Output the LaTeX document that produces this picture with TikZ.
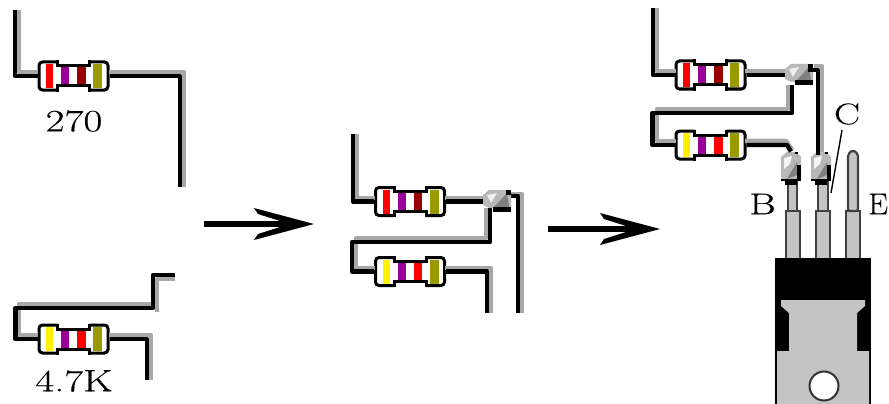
\documentclass[tikz,border=0pt]{standalone}
\usepackage{fontspec}
\usetikzlibrary{calc}
\setmainfont{Latin Modern Roman}[FakeBold=0.25]
\definecolor{wiregray}{HTML}{A8A8A8}
\definecolor{pingray}{HTML}{C4C4C4}
\definecolor{bandolive}{HTML}{999900}
\definecolor{bandpurple}{HTML}{990099}
\definecolor{banddark}{HTML}{990000}
\tikzset{
  wire/.style={draw=black,line width=4.4pt,line join=round},
  wireshade/.style={draw=wiregray,line width=4.6pt,line join=round},
  resbox/.style={minimum width=72pt,minimum height=31pt,inner sep=0pt,outer sep=0pt},
  lab/.style={inner sep=0pt,font=\fontsize{31}{31}\selectfont},
  smalllab/.style={inner sep=0pt,font=\fontsize{30}{30}\selectfont},
  arrowfill/.style={fill=black,draw=none},
  pin/.style={draw=black!75,line width=2.2pt,fill=pingray},
  resline/.style={draw=black,line width=3pt},
}
% resistor: name, x, y, band colours
\newcommand{\resistor}[6]{%
  \node[resbox] (#1) at (#2,#3) {};
  \begin{scope}[shift={(#2,#3)}]
    \fill[white] (-34,-13) rectangle (34,13);
    \fill[#4] (-27.5,-12) rectangle (-20.5,12);
    \fill[#5] (-12.5,-8.5) rectangle (-4.5,8.5);
    \fill[#6] (3.5,-8.5) rectangle (12,8.5);
    \fill[bandolive] (19.5,-12) rectangle (28.5,12);
    \draw[resline] (-16,-10) -- (16,-10) (-16,10) -- (16,10);
    \draw[resline,rounded corners=3.5pt]
      (-16,-14) -- (-34.5,-14) -- (-34.5,14) -- (-16,14);
    \draw[resline,rounded corners=3.5pt]
      (16,-14) -- (34.5,-14) -- (34.5,14) -- (16,14);
    \draw[resline] (-16,-15.5) -- (-16,-8.5) (16,-15.5) -- (16,-8.5)
      (-16,15.5) -- (-16,8.5) (16,15.5) -- (16,8.5);
  \end{scope}}
% horizontal solder blob
\newcommand{\hblob}[3]{%
  \node[inner sep=0pt,outer sep=0pt,minimum width=28pt,minimum height=22pt] (#1) at (#2,#3) {};
  \begin{scope}[shift={(#2,#3)}]
    \fill[black!28] (-14,-6) -- (-8,-11) -- (9,-11) -- (14,-6) -- (14,7) -- (-8,7) -- (-14,4) -- cycle;
    \fill[black!6] (-10,-6) -- (0,-8) -- (-6,2) -- cycle;
    \fill[black!50] (10,-8) -- (12,6) -- (-3,6) -- cycle;
    \fill[black] (-4,5.5) rectangle (14,10.5);
    \fill[black] (9,-11) rectangle (14,-6);
  \end{scope}}
% vertical solder blob
\newcommand{\vblob}[3]{%
  \node[inner sep=0pt,outer sep=0pt,minimum width=20pt,minimum height=33pt] (#1) at (#2,#3) {};
  \begin{scope}[shift={(#2,#3)}]
    \fill[black!28] (-10,-11) -- (-4,-16) -- (5,-16) -- (10,-11) -- (10,11) -- (-10,11) -- cycle;
    \fill[black!4] (-7,-10) -- (1,-12) -- (-1,-4) -- (-7,1) -- cycle;
    \fill[black!50] (6,-6) -- (6,7) -- (-4,11) -- cycle;
    \fill[black] (6,-3) rectangle (10,12);
    \fill[black] (-6,12) rectangle (6,17);
    \fill[black] (-10,11) rectangle (10,13);
    \fill[black] (4,-16) rectangle (7,-14);
  \end{scope}}
\begin{document}
\begin{tikzpicture}[x=1pt,y=-1pt]
\useasboundingbox (0,0) rectangle (889,404);
\fill[white] (0,0) rectangle (889,404);

% ---- left group ----
\resistor{ra}{73.5}{76}{red}{bandpurple}{banddark}
\resistor{rb}{73.5}{339}{yellow}{bandpurple}{red}
\coordinate (a1) at (15,10);
\coordinate (a2) at (180,187);
\coordinate (b1) at (175,275);
\coordinate (b2) at (147,380);
\coordinate (b3) at (153,308);
\draw[wireshade] (18.8,10) -- (18.8,72) -- (38,72);
\draw[wireshade] (109,72) -- (183.8,72) -- (183.8,187);
\draw[wire] (a1) |- (ra.west);
\draw[wire] (ra.east) -| (a2);
\draw[wireshade] (175,279) -- (157,279) -- (157,312);
\draw[wireshade] (151,304) -- (18.8,304) -- (18.8,335) -- (38,335);
\draw[wireshade] (109,335) -- (150.8,335) -- (150.8,380);
\draw[wire] (b1) -| (b3) -| ($(rb.west)+(-22,0)$) -- (rb.west);
\draw[wire] (rb.east) -| (b2);
\node[lab] (la) at (74,121) {\scalebox{1.33}[1]{270}};
\node[lab] (lb) at (74,381) {\scalebox{1.32}[1]{4.7K}};

% ---- arrows ----
\coordinate (p1) at (204,224);
\coordinate (p2) at (314,224);
\coordinate (q1) at (548,229);
\coordinate (q2) at (660,229);
\foreach \s/\e in {p1/p2,q1/q2}{
  \draw[line width=6pt] (\s) -- ([xshift=-30pt]\e);
  \fill[arrowfill] (\e) -- ++(-60,-16) -- ++(4,6) -- ++(22,7) -- ++(0,6) -- ++(-22,7) -- ++(-4,6) -- cycle;
}

% ---- middle group ----
\resistor{rc}{410}{201.5}{red}{bandpurple}{banddark}
\resistor{rd}{410}{271.5}{yellow}{bandpurple}{red}
\coordinate (c1) at (353,134);
\coordinate (c2) at (518,313);
\coordinate (c3) at (487,313);
\coordinate (c4) at (490,208);
\coordinate (c5) at (490,242);
\coordinate (c6) at (506,196);
\coordinate (c7) at (518,196);
\draw[wireshade] (356.8,134) -- (356.8,198) -- (375,198);
\draw[wireshade] (445,198) -- (484,198);
\draw[wireshade] (486,208) -- (486,238) -- (355.8,238) -- (355.8,268) -- (375,268);
\draw[wireshade] (445,268) -- (490.8,268) -- (490.8,313);
\draw[wireshade] (510,194) -- (521.8,194) -- (521.8,313);
\draw[wire] (c1) |- (rc.west);
\node[inner sep=0pt,outer sep=0pt] (jc) at (484,201.5) {};
\draw[wire] (rc.east) -- (jc);
\draw[wire] (c4) -- (c5) -| ($(rd.west)+(-22,0)$) -- (rd.west);
\draw[wire] (rd.east) -| (c3);
\draw[wire] (c6) -- (c7) -- (c2);
\hblob{bm}{497}{201}

% ---- right group ----
\resistor{re}{710.5}{75}{red}{bandpurple}{banddark}
\resistor{rf}{710.5}{145}{yellow}{bandpurple}{red}
\coordinate (d1) at (653,8);
\coordinate (d2) at (792,85);
\coordinate (d3) at (792,113);
\coordinate (d4) at (808,70);
\coordinate (d5) at (818,70);
\coordinate (d6) at (818,155);
\coordinate (d7) at (787,145);
\draw[wireshade] (656.8,8) -- (656.8,71) -- (676,71);
\draw[wireshade] (745,71) -- (785,71);
\draw[wireshade] (788,85) -- (788,109) -- (656.8,109) -- (656.8,141) -- (676,141);
\draw[wireshade] (745,141) -- (786,141) -- (792,150);
\draw[wireshade] (814,66) -- (821.8,66) -- (821.8,155);

% transistor pins
\draw[pin] (786,211) rectangle (800,259);
\draw[pin] (788,178) rectangle (797,211);
\draw[pin] (816,211) rectangle (830,259);
\draw[pin] (818,178) rectangle (828,211);
\draw[pin] (846,211) rectangle (860,259);
\draw[pin,rounded corners=2pt] (848,211) -- (848,154) -- (853,150) -- (858,154) -- (858,211) -- cycle;
\vblob{bb}{791}{168}
\vblob{bc}{821}{168}
\hblob{bt}{799}{75}
\draw[wire] (d1) |- (re.west);
\draw[wire] (re.east) -- (bt.west);
\draw[wire] (d2) -- (d3) -| ($(rf.west)+(-22,0)$) -- (rf.west);
\draw[wire] (rf.east) -- (d7) -- (bb.north);
\draw[wire] (d4) -- (d5) -- (d6);

% transistor body
\fill[black] (775,258) rectangle (871,404);
\fill[pingray] (781,300) -- (865,300) -- (865,306) -- (857,313) -- (857,351)
  -- (869,351) -- (869,404) -- (777,404) -- (777,351) -- (789,351) -- (789,313)
  -- (781,306) -- cycle;
\node[circle,draw=black!80,fill=white,line width=2pt,minimum size=29pt,inner sep=0pt] (hole) at (824,386) {};

% labels
\node[smalllab] (lB) at (762.5,204) {\scalebox{1.35}[1]{B}};
\node[smalllab] (lC) at (847,114) {\scalebox{1.3}[1]{C}};
\node[smalllab,anchor=west] (lE) at (868,204) {\scalebox{1.05}[1]{E}};
\coordinate (cstart) at (842,130);
\coordinate (cend) at (831,193);
\draw[black,line width=1.4pt] (cstart) -- (cend);
\end{tikzpicture}
\end{document}
